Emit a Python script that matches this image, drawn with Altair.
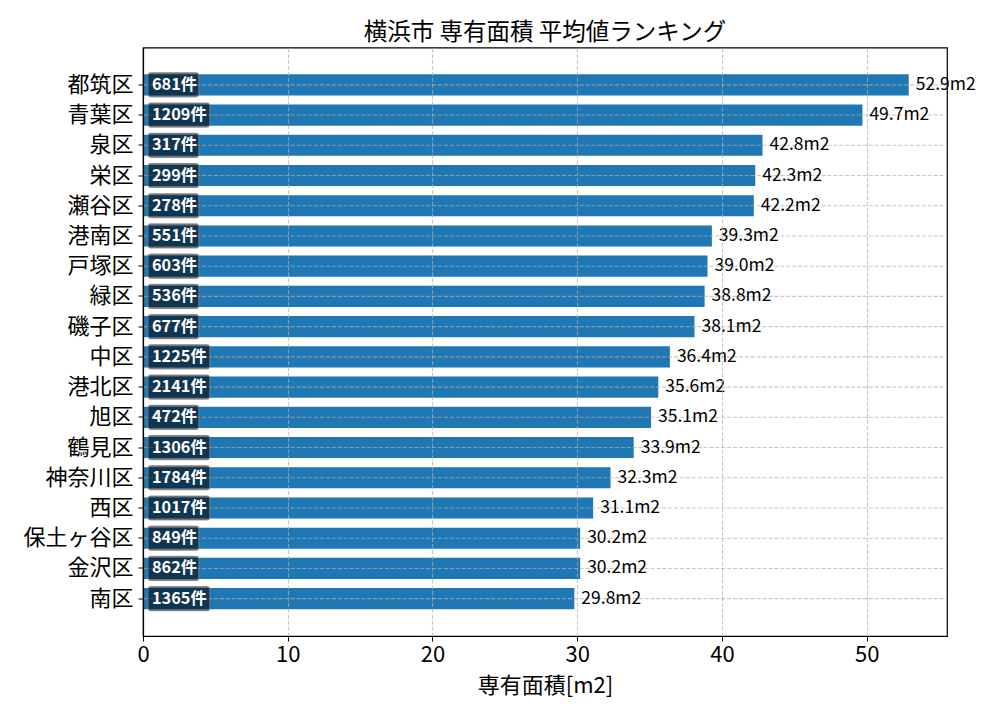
import altair as alt
import pandas as pd

districts = ["都筑区", "青葉区", "泉区", "栄区", "瀬谷区", "港南区", "戸塚区", "緑区", "磯子区",
             "中区", "港北区", "旭区", "鶴見区", "神奈川区", "西区", "保土ヶ谷区", "金沢区", "南区"]
avg_area = [52.9, 49.7, 42.8, 42.3, 42.2, 39.3, 39.0, 38.8, 38.1,
            36.4, 35.6, 35.1, 33.9, 32.3, 31.1, 30.2, 30.2, 29.8]
counts = [681, 1209, 317, 299, 278, 551, 603, 536, 677,
          1225, 2141, 472, 1306, 1784, 1017, 849, 862, 1365]
x_ticks = [0, 10, 20, 30, 40, 50]

df = pd.DataFrame({"district": districts, "value": avg_area, "count": counts})

FONT = "Noto Sans CJK JP"
XMAX = 55.545

x_scale = alt.Scale(domain=[0, XMAX], nice=False, zero=True)
y_enc = alt.Y(
    "district:N",
    sort=districts,
    scale=alt.Scale(paddingInner=0.3, paddingOuter=0.885),
    axis=alt.Axis(title=None, labelFontSize=22, labelFont=FONT, labelColor="black",
                  tickSize=5, tickColor="black", labelPadding=5, domainColor="black",
                  domainWidth=1.2, grid=False, zindex=2),
)

base = alt.Chart(df)

bars = base.mark_bar(color="#1f77b4").encode(
    x=alt.X("value:Q", scale=x_scale,
            axis=alt.Axis(values=x_ticks, title="専有面積[m2]", titleFontSize=22,
                          titleFont=FONT, titleFontWeight="normal", titleColor="black",
                          labelFontSize=22, labelFont=FONT, labelColor="black",
                          labelFlush=False, tickSize=5, tickColor="black", labelPadding=3,
                          titlePadding=10, domainColor="black", domainWidth=1.2,
                          grid=True, gridColor="#b0b0b0", gridOpacity=0.7,
                          gridDash=[4.1, 1.8], gridWidth=1.1, zindex=1)),
    y=y_enc,
)

hlines = base.mark_rule(color="#b0b0b0", opacity=0.7, strokeDash=[4.1, 1.8],
                        strokeWidth=1.1).encode(
    y=alt.Y("district:N", sort=districts),
    x=alt.datum(0),
    x2=alt.datum(XMAX),
)

boxes = base.transform_calculate(
    box_start="0.34",
    box_end="0.34 + (18 + 11 * length(toString(datum.count))) / 14.5",
).mark_bar(size=24, cornerRadius=3, fill="black", fillOpacity=0.55,
           stroke="#7a7a7a", strokeWidth=1.2, strokeOpacity=0.8).encode(
    y=alt.Y("district:N", sort=districts),
    x=alt.X("box_start:Q"),
    x2="box_end:Q",
)

count_text = base.transform_calculate(
    label="datum.count + '件'", tx="0.62"
).mark_text(align="left", baseline="middle", font=FONT, fontSize=16.3,
            fontWeight="bold", color="white").encode(
    y=alt.Y("district:N", sort=districts),
    x=alt.X("tx:Q"),
    text="label:N",
)

value_text = base.transform_calculate(
    label="format(datum.value, '.1f') + 'm2'"
).mark_text(align="left", baseline="middle", font=FONT, fontSize=17.5,
            color="black", dx=7).encode(
    y=alt.Y("district:N", sort=districts),
    x=alt.X("value:Q"),
    text="label:N",
)

chart = alt.layer(bars, hlines, boxes, count_text, value_text).properties(
    width=804,
    height=588.5,
    background="white",
    title=alt.TitleParams("横浜市 専有面積 平均値ランキング", font=FONT, fontSize=23.5,
                          fontWeight="normal", color="black", offset=3),
    autosize=alt.AutoSizeParams(type="none"),
    padding={"left": 135, "top": 39.5, "right": 45, "bottom": 80},
).configure_view(stroke="black", strokeWidth=1.2)

chart.save("out.html", embed_options={"renderer": "svg", "actions": False})
